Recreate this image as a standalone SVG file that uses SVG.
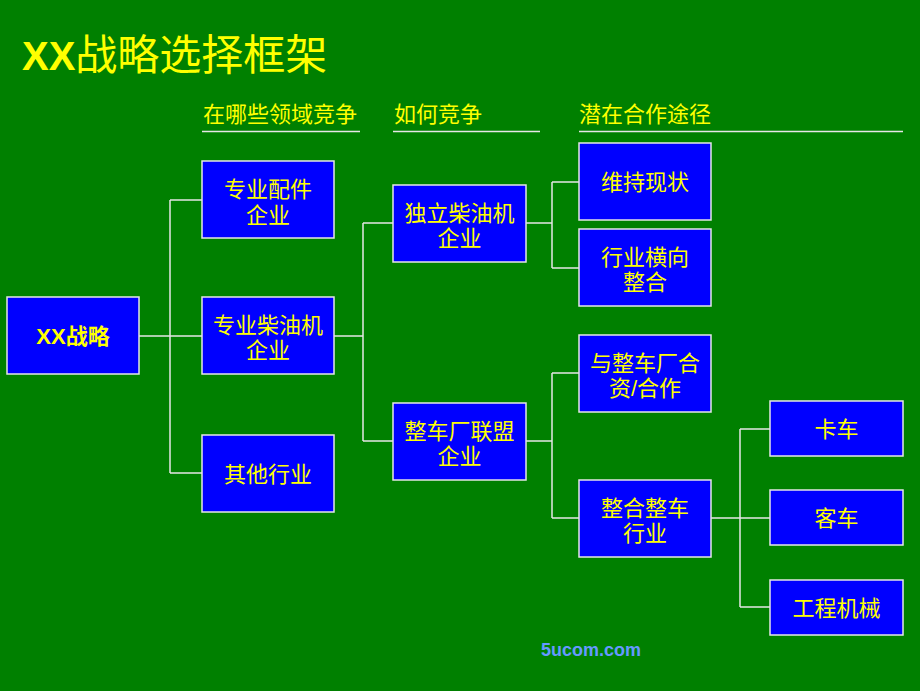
<svg xmlns="http://www.w3.org/2000/svg" width="920" height="691" viewBox="0 0 920 691">
<style>
text{font-family:"Liberation Sans","Noto Sans CJK SC",sans-serif;fill:#FFFF00}
.box{fill:#0000FF;stroke:#E6E6E6;stroke-width:1.5}
.t{font-size:22px;text-anchor:middle}
.h{font-size:22px}
.ul{stroke:#E6E6E6;stroke-width:1.5}
#connectors path{fill:none;stroke:#E6E6E6;stroke-width:1.5}
</style>
<rect width="920" height="691" fill="#008000"/>
<text x="22" y="70" font-size="42"><tspan font-weight="bold" font-size="40">XX</tspan>战略选择框架</text>
<text class="h" x="203" y="122">在哪些领域竞争</text>
<text class="h" x="394" y="122">如何竞争</text>
<text class="h" x="579" y="122">潜在合作途径</text>
<line class="ul" x1="202" y1="131.5" x2="360" y2="131.5"/>
<line class="ul" x1="393" y1="131.5" x2="540" y2="131.5"/>
<line class="ul" x1="579" y1="131.5" x2="903" y2="131.5"/>
<g id="connectors">
<path d="M139 336H170M170 200V473M170 200H202M170 336H202M170 473H202"/>
<path d="M334 336H363M363 223V441M363 223H393M363 441H393"/>
<path d="M526 223H552M552 182V268M552 182H579M552 268H579"/>
<path d="M526 441H552M552 373V518M552 373H579M552 518H579"/>
<path d="M711 518H770M740 429V607M740 429H770M740 607H770"/>
</g>
<g id="xx"><rect class="box" x="7" y="297" width="132" height="77"/><text class="t" x="73" y="344" font-weight="bold">XX战略</text></g>
<g id="b1"><rect class="box" x="202" y="161" width="132" height="77"/><text class="t" x="268" y="197">专业配件</text><text class="t" x="268" y="222.5">企业</text></g>
<g id="b2"><rect class="box" x="202" y="297" width="132" height="77"/><text class="t" x="268" y="332.5">专业柴油机</text><text class="t" x="268" y="358">企业</text></g>
<g id="b3"><rect class="box" x="202" y="435" width="132" height="77"/><text class="t" x="268" y="482">其他行业</text></g>
<g id="c1"><rect class="box" x="393" y="185" width="133" height="77"/><text class="t" x="459.5" y="220.5">独立柴油机</text><text class="t" x="459.5" y="246">企业</text></g>
<g id="c2"><rect class="box" x="393" y="403" width="133" height="77"/><text class="t" x="459.5" y="438.5">整车厂联盟</text><text class="t" x="459.5" y="464">企业</text></g>
<g id="d1"><rect class="box" x="579" y="143" width="132" height="77"/><text class="t" x="645" y="190">维持现状</text></g>
<g id="d2"><rect class="box" x="579" y="229" width="132" height="77"/><text class="t" x="645" y="264.5">行业横向</text><text class="t" x="645" y="290">整合</text></g>
<g id="d3"><rect class="box" x="579" y="335" width="132" height="77"/><text class="t" x="645" y="370.5">与整车厂合</text><text class="t" x="645" y="396">资/合作</text></g>
<g id="d4"><rect class="box" x="579" y="480" width="132" height="77"/><text class="t" x="645" y="515.5">整合整车</text><text class="t" x="645" y="541">行业</text></g>
<g id="e1"><rect class="box" x="770" y="401" width="133" height="55"/><text class="t" x="836.5" y="437">卡车</text></g>
<g id="e2"><rect class="box" x="770" y="490" width="133" height="55"/><text class="t" x="836.5" y="526">客车</text></g>
<g id="e3"><rect class="box" x="770" y="580" width="133" height="55"/><text class="t" x="836.5" y="616">工程机械</text></g>
<text x="591" y="656" font-size="18" font-weight="bold" text-anchor="middle" style="fill:#6699FF">5ucom.com</text>
</svg>
